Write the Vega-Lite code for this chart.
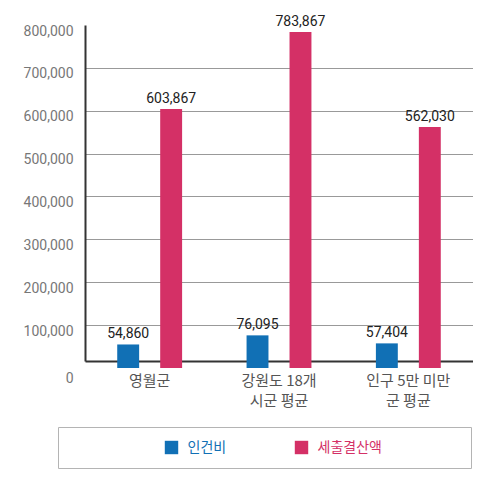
{
  "$schema": "https://vega.github.io/schema/vega-lite/v6.json",
  "padding": {"left": 23, "top": 14, "right": 0, "bottom": 0},
  "width": 388,
  "height": 336,
  "config": {
    "view": {"stroke": null},
    "font": "Roboto"
  },
  "data": {
    "values": [
      {"region": "영월군", "item": "인건비", "value": 54860},
      {"region": "영월군", "item": "세출결산액", "value": 603867},
      {"region": "강원도 18개|시군 평균", "item": "인건비", "value": 76095},
      {"region": "강원도 18개|시군 평균", "item": "세출결산액", "value": 783867},
      {"region": "인구 5만 미만|군 평균", "item": "인건비", "value": 57404},
      {"region": "인구 5만 미만|군 평균", "item": "세출결산액", "value": 562030}
    ]
  },
  "encoding": {
    "x": {
      "field": "region",
      "type": "nominal",
      "sort": null,
      "scale": {"paddingInner": 0, "paddingOuter": 0},
      "axis": {
        "title": null,
        "labelAngle": 0,
        "labelExpr": "split(datum.label, '|')",
        "labelFont": "Noto Sans CJK KR",
        "labelFontSize": 15,
        "labelColor": "#555",
        "labelLineHeight": 20,
        "labelPadding": 12,
        "ticks": false,
        "domainColor": "#333",
        "domainWidth": 2
      }
    },
    "xOffset": {
      "field": "item",
      "sort": ["인건비", "세출결산액"],
      "scale": {"paddingInner": 0.49, "paddingOuter": 0.75}
    },
    "y": {
      "field": "value",
      "type": "quantitative",
      "scale": {"domain": [16300, 800000], "nice": false, "zero": false},
      "axis": {
        "title": null,
        "values": [16300, 100000, 200000, 300000, 400000, 500000, 600000, 700000, 800000],
        "labelExpr": "datum.value < 50000 ? '0' : format(datum.value, ',')",
        "grid": true,
        "gridColor": "#999",
        "gridOpacity": {"condition": {"test": "datum.value < 50000 || datum.value === 800000", "value": 0}, "value": 1},
        "ticks": false,
        "labelPadding": 12,
        "labelOffset": {"condition": {"test": "datum.value < 50000", "value": 17}, "value": 6},
        "labelFontSize": 14,
        "labelColor": "#777",
        "domainColor": "#333",
        "domainWidth": 2
      }
    },
    "color": {
      "field": "item",
      "sort": ["인건비", "세출결산액"],
      "scale": {"domain": ["인건비", "세출결산액"], "range": ["#1170b5", "#d43066"]},
      "legend": {
        "orient": "none",
        "legendX": -27,
        "legendY": 402,
        "direction": "horizontal",
        "title": "\u00a0",
        "titleOrient": "left",
        "titlePadding": 93,
        "titleFontSize": 14,
        "symbolType": "square",
        "symbolSize": 180,
        "symbolStrokeWidth": 0,
        "symbolOpacity": 1,
        "labelFont": "Noto Sans CJK KR",
        "labelFontSize": 14,
        "labelOffset": 9,
        "labelLimit": 300,
        "columnPadding": 68,
        "padding": 13.5,
        "strokeColor": "#b4b4b4",
        "labelExpr": "datum.label == '세출결산액' ? datum.label + '\u00a0\u00a0\u00a0\u00a0\u00a0\u00a0\u00a0\u00a0\u00a0\u00a0\u00a0\u00a0\u00a0\u00a0\u00a0\u00a0\u00a0\u00a0\u00a0\u00a0\u00a0\u00a0\u00a0\u00a0\u200b' : datum.label",
        "encode": {
          "labels": {
            "update": {
              "fill": {"scale": "color", "field": "value"}
            }
          }
        }
      }
    }
  },
  "layer": [
    {"mark": {"type": "bar"}},
    {
      "mark": {"type": "text", "baseline": "bottom", "dy": -3, "fontSize": 14, "color": "#222"},
      "encoding": {
        "text": {"field": "value", "type": "quantitative", "format": ","},
        "color": {"value": "#222"}
      }
    }
  ]
}
